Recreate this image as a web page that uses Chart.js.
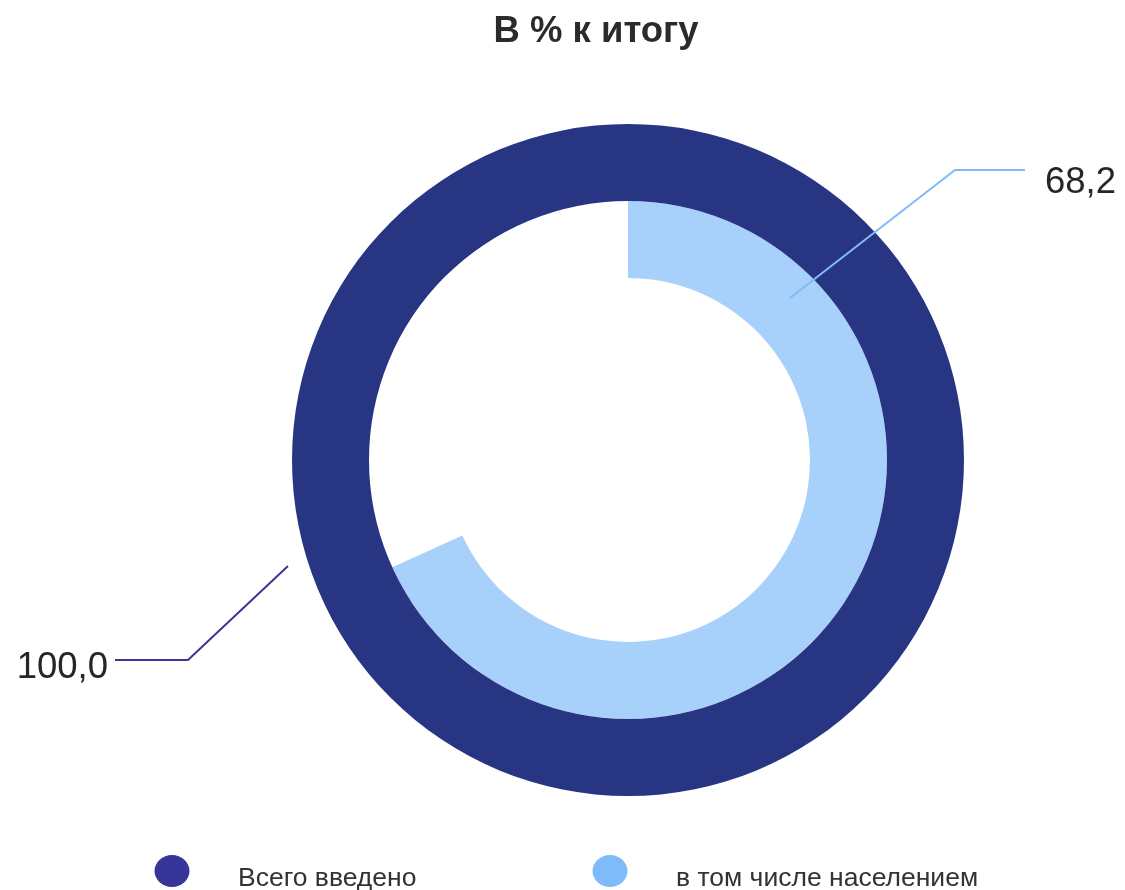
<!DOCTYPE html>
<html><head><meta charset="utf-8">
<script src="https://cdn.jsdelivr.net/npm/chart.js@4/dist/chart.umd.min.js"></script>
<style>html,body{margin:0;padding:0;background:#fff;overflow:hidden;}</style>
</head><body>
<canvas id="c" width="1125" height="890" style="display:block;width:1125px;height:890px"></canvas>
<script>
const chartTitle = 'В % к итогу';
const categories = ['Всего введено', 'в том числе населением'];
const totalValues = [100.0, 0];
const populationValues = [0, 68.2];
const ringColors = ['#283583', '#a7d0fb'];
const legendColors = ['#37349a', '#80bbf9'];
const leaderColors = ['#3a3596', '#80bbf9'];

const FONT = '"Liberation Sans", Arial, Helvetica, sans-serif';
const fmt = v => v.toFixed(1).replace('.', ',');

const overlay = {
  id: 'overlay',
  afterDraw(chart) {
    const ctx = chart.ctx;
    ctx.save();
    // title
    ctx.fillStyle = '#2b2b2b';
    ctx.font = 'bold 36.5px ' + FONT;
    ctx.textAlign = 'center';
    ctx.textBaseline = 'alphabetic';
    ctx.fillText(chartTitle, 596, 42);

    const arc = chart.getDatasetMeta(0).data[0];
    const cx = arc.x, cy = arc.y;
    ctx.lineWidth = 2;
    ctx.font = '36.5px ' + FONT;
    ctx.fillStyle = '#262626';

    // callout for the population ring
    ctx.strokeStyle = leaderColors[1];
    ctx.beginPath();
    ctx.moveTo(cx + 162, cy - 162);
    ctx.lineTo(cx + 327, cy - 290);
    ctx.lineTo(cx + 397, cy - 290);
    ctx.stroke();
    ctx.textAlign = 'left';
    ctx.fillText(fmt(populationValues[1]), cx + 417, cy - 267);

    // callout for the total ring
    ctx.strokeStyle = leaderColors[0];
    ctx.beginPath();
    ctx.moveTo(cx - 340, cy + 106);
    ctx.lineTo(cx - 440, cy + 200);
    ctx.lineTo(cx - 513, cy + 200);
    ctx.stroke();
    ctx.textAlign = 'right';
    ctx.fillText(fmt(totalValues[0]), cx - 520, cy + 218);

    // legend
    const lx = [172, 610];
    ctx.font = '26.5px ' + FONT;
    ctx.textAlign = 'left';
    ctx.fillStyle = '#333333';
    categories.forEach((c, i) => {
      ctx.save();
      ctx.fillStyle = legendColors[i];
      ctx.beginPath();
      ctx.ellipse(lx[i], 871, 17.5, 16, 0, 0, Math.PI * 2);
      ctx.fill();
      ctx.restore();
      ctx.fillText(c, lx[i] + 66, 886);
    });
    ctx.restore();
  }
};

new Chart(document.getElementById('c'), {
  type: 'doughnut',
  data: {
    labels: categories,
    datasets: [
      { label: categories[0], data: totalValues, backgroundColor: ringColors, borderWidth: 0 },
      { label: categories[1], data: populationValues, backgroundColor: ringColors, borderWidth: 0,
        circumference: 360 * populationValues[1] / totalValues[0] }
    ]
  },
  options: {
    responsive: false,
    animation: false,
    radius: 336,
    cutout: (182 / 336 * 100) + '%',
    layout: { padding: { left: 131, right: 0, top: 30, bottom: 0 } },
    plugins: {
      legend: { display: false },
      title: { display: false },
      tooltip: { enabled: false }
    }
  },
  plugins: [overlay]
});
</script>
</body></html>
